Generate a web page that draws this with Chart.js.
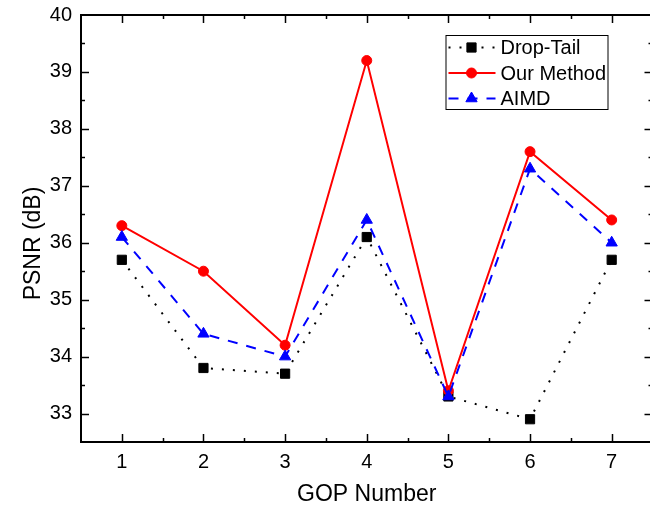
<!DOCTYPE html>
<html>
<head>
<meta charset="utf-8">
<script src="https://cdn.jsdelivr.net/npm/chart.js@4.4.0/dist/chart.umd.min.js"></script>
<style>
  html, body { margin: 0; padding: 0; background: #fff; overflow: hidden; }
  #wrap { width: 660px; height: 514px; }
</style>
</head>
<body>
<div id="wrap"><canvas id="c" width="660" height="514"></canvas></div>
<script>
// ---- datos ----
const gop       = [1, 2, 3, 4, 5, 6, 7];
const dropTail  = [35.7, 33.8, 33.7, 36.1, 33.3, 32.9, 35.7];
const ourMethod = [36.3, 35.5, 34.2, 39.2, 33.4, 37.6, 36.4];
const aimd      = [36.1, 34.4, 34.0, 36.4, 33.3, 37.3, 36.0];
const xTicks    = [1, 2, 3, 4, 5, 6, 7];
const yTicks    = [33, 34, 35, 36, 37, 38, 39, 40];

const FONT = "'Liberation Sans', Arial, sans-serif";
const pts = (arr) => arr.map((v, i) => ({ x: gop[i], y: v }));

// marco + ticks hacia adentro (estilo Origin) + título Y
const frameTicks = {
  id: "frameTicks",
  afterDatasetsDraw(chart) {
    const { ctx, chartArea: a, scales: { x, y } } = chart;
    ctx.save();
    ctx.strokeStyle = "#000";
    ctx.lineWidth = 1.5;
    const seg = (x1, y1, x2, y2) => { ctx.beginPath(); ctx.moveTo(x1, y1); ctx.lineTo(x2, y2); ctx.stroke(); };
    for (let v = x.min + 0.5; v < x.max; v += 0.5) {
      const px = Math.round(x.getPixelForValue(v)) + 0.5;
      const len = Number.isInteger(v) ? 8 : 4;
      seg(px, a.bottom, px, a.bottom - len);
      seg(px, a.top, px, a.top + len);
    }
    for (let v = y.min + 0.5; v < y.max; v += 0.5) {
      const py = Math.round(y.getPixelForValue(v)) + 0.5;
      const len = Number.isInteger(v) ? 8 : 4;
      seg(a.left, py, a.left + len, py);
      seg(a.right, py, a.right - len, py);
    }
    ctx.lineWidth = 2;
    ctx.strokeRect(a.left, a.top, a.right - a.left, a.bottom - a.top);

    // título eje Y (algo desplazado hacia abajo como en el original)
    ctx.translate(a.left - 47, (a.top + a.bottom) / 2 + 15);
    ctx.rotate(-Math.PI / 2);
    ctx.fillStyle = "#000";
    ctx.font = "23px " + FONT;
    ctx.textAlign = "center";
    ctx.textBaseline = "middle";
    ctx.fillText("PSNR (dB)", 0, 0);
    ctx.restore();
  }
};

// leyenda con muestra de línea + marcador
const boxLegend = {
  id: "boxLegend",
  afterDraw(chart) {
    const { ctx, chartArea: a } = chart;
    const x0 = a.right - 207, y0 = a.top + 20, w = 162, h = 74;
    ctx.save();
    ctx.fillStyle = "#fff";
    ctx.fillRect(x0, y0, w, h);
    ctx.strokeStyle = "#000";
    ctx.lineWidth = 1;
    ctx.strokeRect(x0 + 0.5, y0 + 0.5, w, h);
    chart.data.datasets.forEach((ds, i) => {
      const ry = y0 + 12.5 + i * 25.5;
      ctx.save();
      ctx.strokeStyle = ds.borderColor;
      ctx.lineWidth = ds.borderWidth;
      ctx.setLineDash(ds.borderDash || []);
      ctx.beginPath();
      ctx.moveTo(x0 + 3, ry);
      ctx.lineTo(x0 + 50, ry);
      ctx.stroke();
      ctx.restore();
      ctx.fillStyle = ds.pointBackgroundColor;
      ctx.strokeStyle = ds.pointBorderColor;
      Chart.helpers.drawPoint(ctx, {
        pointStyle: ds.pointStyle, radius: ds.pointRadius, rotation: 0, borderWidth: ds.pointBorderWidth
      }, x0 + 26, ry);
      ctx.fillStyle = "#000";
      ctx.font = "20px " + FONT;
      ctx.textBaseline = "middle";
      ctx.fillText(ds.label, x0 + 55, ry + 1);
    });
    ctx.restore();
  }
};

new Chart(document.getElementById("c"), {
  type: "line",
  data: {
    datasets: [
      {
        label: "Drop-Tail",
        data: pts(dropTail),
        borderColor: "#000",
        borderWidth: 2,
        borderDash: [2, 9],
        pointStyle: "rect",
        pointRadius: 6.5,
        pointBackgroundColor: "#000",
        pointBorderColor: "#000",
        pointBorderWidth: 1,
        order: 3
      },
      {
        label: "Our Method",
        data: pts(ourMethod),
        borderColor: "#ff0000",
        borderWidth: 2,
        pointStyle: "circle",
        pointRadius: 5,
        pointBackgroundColor: "#ff0000",
        pointBorderColor: "#ff0000",
        pointBorderWidth: 1,
        order: 2
      },
      {
        label: "AIMD",
        data: pts(aimd),
        borderColor: "#0000ff",
        borderWidth: 2,
        borderDash: [10, 9],
        pointStyle: "triangle",
        pointRadius: 6.5,
        pointBackgroundColor: "#0000ff",
        pointBorderColor: "#0000ff",
        pointBorderWidth: 1,
        order: 1
      }
    ]
  },
  options: {
    responsive: false,
    animation: false,
    devicePixelRatio: 1,
    layout: { padding: { top: 15, right: 6, left: 0, bottom: 0 } },
    plugins: { legend: { display: false }, tooltip: { enabled: false } },
    scales: {
      x: {
        type: "linear",
        min: 0.5,
        max: 7.5,
        afterBuildTicks: (s) => { s.ticks = xTicks.map(v => ({ value: v })); },
        afterFit: (s) => { s.height = 72; s.paddingLeft = 0; s.paddingRight = 0; },
        grid: { display: false, drawTicks: false },
        border: { display: false },
        ticks: { color: "#000", padding: 8, font: { family: FONT, size: 20 } },
        title: {
          display: true, text: "GOP Number", color: "#000",
          font: { family: FONT, size: 23 }, padding: { top: 0, bottom: 6 }
        }
      },
      y: {
        min: 32.5,
        max: 40,
        afterBuildTicks: (s) => { s.ticks = yTicks.map(v => ({ value: v })); },
        afterFit: (s) => { s.width = 81; s.paddingTop = 0; s.paddingBottom = 0; },
        grid: { display: false, drawTicks: false },
        border: { display: false },
        ticks: { color: "#000", padding: 9, font: { family: FONT, size: 20 } }
      }
    }
  },
  plugins: [frameTicks, boxLegend]
});
</script>
</body>
</html>
